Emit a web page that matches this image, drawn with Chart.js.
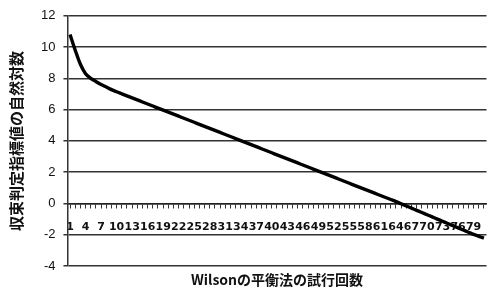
<!DOCTYPE html>
<html>
<head>
<meta charset="utf-8">
<script src="https://cdn.jsdelivr.net/npm/chart.js@4/dist/chart.umd.min.js"></script>
<style>
  html, body { margin: 0; padding: 0; background: #fff; }
  #wrap { width: 497px; height: 288px; }
</style>
</head>
<body>
<div id="wrap"><canvas id="lnChart"></canvas></div>
<script>
// Wilson trial count 1..81
const trials = [];
for (let i = 1; i <= 81; i++) trials.push(String(i));

// natural log of the convergence index
const lnValues = [
  10.8, 9.8, 8.9, 8.3, 8.0, 7.8, 7.6, 7.45, 7.28, 7.14,
  7.01, 6.88, 6.75, 6.62, 6.49, 6.36, 6.23, 6.10, 5.97, 5.84,
  5.71, 5.58, 5.45, 5.32, 5.19, 5.06, 4.93, 4.80, 4.67, 4.54,
  4.41, 4.28, 4.15, 4.02, 3.89, 3.76, 3.63, 3.50, 3.37, 3.24,
  3.11, 2.98, 2.85, 2.72, 2.59, 2.46, 2.33, 2.20, 2.07, 1.94,
  1.81, 1.68, 1.55, 1.42, 1.29, 1.16, 1.03, 0.90, 0.77, 0.64,
  0.51, 0.38, 0.25, 0.12, -0.02, -0.16, -0.30, -0.44, -0.58, -0.72,
  -0.86, -1.00, -1.14, -1.28, -1.42, -1.56, -1.70, -1.84, -1.98, -2.10,
  -2.22
];

const yTicks = [-4, -2, 0, 2, 4, 6, 8, 10, 12];

const fontFamily = '"Liberation Sans", Arial, sans-serif';
const cjkFont = '"Noto Sans CJK JP", "Liberation Sans", sans-serif';

const ctx = document.getElementById('lnChart').getContext('2d');

new Chart(ctx, {
  type: 'line',
  data: {
    labels: trials,
    datasets: [{
      data: lnValues,
      borderColor: '#000',
      borderWidth: 3.4,
      pointRadius: 0,
      tension: 0.3,
      fill: false
    }]
  },
  options: {
    responsive: true,
    maintainAspectRatio: false,
    animation: false,
    layout: { padding: { top: 5, right: 10, bottom: 0, left: 7 } },
    plugins: {
      legend: { display: false },
      tooltip: { enabled: false }
    },
    scales: {
      x: {
        type: 'category',
        offset: true,
        position: { y: 0 },
        afterFit: s => { s.height = 0; },
        grid: {
          drawOnChartArea: false,
          drawTicks: true,
          offset: false,
          tickLength: 4,
          color: '#333'
        },
        border: { display: true, color: '#222', width: 1.5, dash: [2, 1] },
        ticks: {
          autoSkip: false,
          maxRotation: 0,
          minRotation: 0,
          padding: 13,
          color: '#111',
          font: { family: '"DejaVu Sans", sans-serif', size: 11, weight: 'bold' },
          callback: function (val, idx) {
            return idx % 3 === 0 ? this.getLabelForValue(val) : '';
          }
        }
      },
      x2: {
        type: 'category',
        position: 'bottom',
        afterFit: s => { s.height = 22; },
        grid: { display: false },
        border: { display: false },
        ticks: { display: false },
        title: {
          display: true,
          text: 'Wilsonの平衡法の試行回数',
          color: '#111',
          font: { family: cjkFont, size: 14, weight: 'bold' },
          padding: { top: 0, bottom: 0 }
        }
      },
      y: {
        min: -4,
        max: 12,
        afterBuildTicks: s => { s.ticks = yTicks.map(v => ({ value: v })); },
        grid: {
          color: '#333',
          lineWidth: 1.5,
          drawTicks: true,
          tickLength: 4
        },
        border: { display: true, color: '#333', width: 1.5 },
        ticks: {
          padding: 8,
          color: '#111',
          font: { family: fontFamily, size: 13 }
        },
        title: {
          display: true,
          text: '収束判定指標値の自然対数',
          color: '#111',
          font: { family: cjkFont, size: 15, weight: 'bold' },
          padding: { top: 0, bottom: 8 }
        }
      }
    }
  }
});
</script>
</body>
</html>
